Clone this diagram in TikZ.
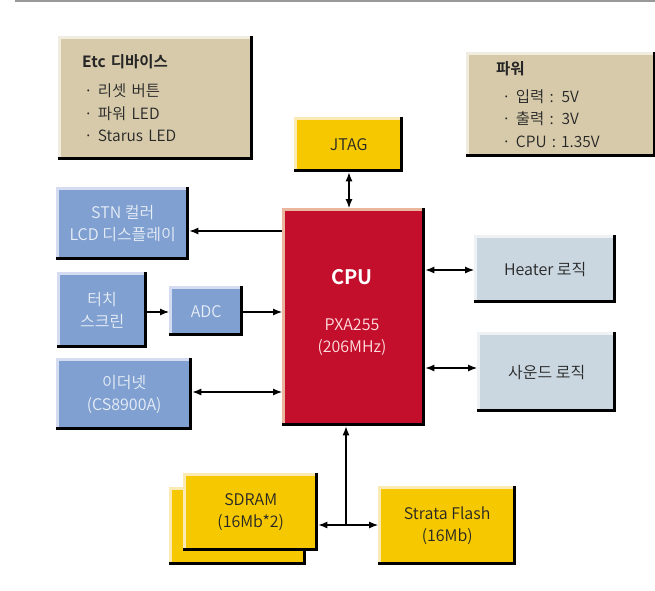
\documentclass[tikz,border=0pt]{standalone}
\usepackage{fontspec}
\setmainfont{Noto Sans CJK KR}[UprightFont={* DemiLight}, BoldFont={* Bold}]
\usetikzlibrary{arrows.meta}
\definecolor{tanbox}{HTML}{D6CAAA}
\definecolor{tanhl}{HTML}{F1ECE0}
\definecolor{bluebox}{HTML}{7FA0D0}
\definecolor{bluehl}{HTML}{D5DBF0}
\definecolor{yelbox}{HTML}{F5C800}
\definecolor{yelhl}{HTML}{FCEAB4}
\definecolor{cpured}{HTML}{C30F2B}
\definecolor{cpuhl}{HTML}{EAB69E}
\definecolor{graybox}{HTML}{CAD7E0}
\definecolor{grayhl}{HTML}{EEF2F5}
\definecolor{bluetxt}{HTML}{E8EEF8}
\definecolor{darktxt}{HTML}{262626}
\newcommand\bev[2]{%
  \draw[#2, line width=3pt] ([xshift=1.5pt]#1.south west) -- ([xshift=1.5pt,yshift=-1.5pt]#1.north west) -- ([yshift=-1.5pt]#1.north east);
  \draw[black, line width=3pt] ([xshift=-1.5pt]#1.north east) -- ([xshift=-1.5pt,yshift=1.5pt]#1.south east) -- ([yshift=1.5pt]#1.south west);
}
\begin{document}
\begin{tikzpicture}[x=1pt,y=-1pt,
  blk/.style={anchor=north west, inner sep=0pt, align=center, font=\fontsize{16}{22.5}\selectfont},
  bluetext/.style={text=bluetxt},
  dtext/.style={text=darktxt},
  conn/.style={line width=1.1pt, -{Latex[length=9pt,width=7pt]}},
  bconn/.style={line width=1.1pt, {Latex[length=9pt,width=7pt]}-{Latex[length=9pt,width=7pt]}}]
\useasboundingbox (0,0) rectangle (655,590);
\draw[color=black!40, line width=1.6pt] (15,0.8) coordinate (tl) -- (655,0.8) coordinate (tr);

% Etc box
\node[blk, fill=tanbox, minimum width=195pt, minimum height=124pt, align=left, text width=147pt, dtext,
  font=\fontsize{15.5}{22.5}\selectfont] (etc) at (58,36)
 {{\bfseries Etc 디바이스}\\[7pt] \hspace*{2pt}· 리셋 버튼\\ \hspace*{2pt}· 파워 LED\\ \hspace*{2pt}· Starus LED};
\bev{etc}{tanhl}

% Power box
\node[blk, fill=tanbox, minimum width=190pt, minimum height=105pt, align=left, text width=130pt, dtext,
  font=\fontsize{15.5}{22.5}\selectfont] (pwr) at (466,52)
 {{\bfseries 파워}\\[5pt] \hspace*{6pt}· 입력 : 5V\\ \hspace*{6pt}· 출력 : 3V\\ \hspace*{6pt}· CPU : 1.35V};
\bev{pwr}{tanhl}

% JTAG
\node[blk, fill=yelbox, minimum width=109pt, minimum height=55pt, dtext] (jtag) at (294,117) {JTAG};
\bev{jtag}{yelhl}

% CPU
\node[blk, fill=cpured, minimum width=143pt, minimum height=218pt, text=white] (cpu) at (282,208) {};
\bev{cpu}{cpuhl}
\node[text=white, font=\fontsize{20}{24}\selectfont\bfseries] (cput) at (352,277) {CPU};
\node[text=white!88!red, align=center, font=\fontsize{16}{21.5}\selectfont] (cpus) at (352,337) {PXA255\\(206MHz)};

% STN
\node[blk, fill=bluebox, minimum width=133pt, minimum height=73pt, bluetext] (stn) at (56,187) {STN 컬러\\LCD 디스플레이};
\bev{stn}{bluehl}

% Touch
\node[blk, fill=bluebox, minimum width=90pt, minimum height=76pt, bluetext] (touch) at (57,272) {터치\\스크린};
\bev{touch}{bluehl}

% ADC
\node[blk, fill=bluebox, minimum width=74pt, minimum height=50pt, bluetext] (adc) at (169,286) {ADC};
\bev{adc}{bluehl}

% Ethernet
\node[blk, fill=bluebox, minimum width=136pt, minimum height=72pt, bluetext] (eth) at (56,358) {이더넷\\(CS8900A)};
\bev{eth}{bluehl}

% Heater
\node[blk, fill=graybox, minimum width=142pt, minimum height=68pt, dtext] (heat) at (474,235) {Heater 로직};
\bev{heat}{grayhl}

% Sound
\node[blk, fill=graybox, minimum width=139pt, minimum height=80pt, dtext] (snd) at (477,332) {사운드 로직};
\bev{snd}{grayhl}

% SDRAM back & front
\node[blk, fill=yelbox, minimum width=137pt, minimum height=78pt] (sdramb) at (169,487) {};
\bev{sdramb}{yelhl}
\node[blk, fill=yelbox, minimum width=135pt, minimum height=78pt, dtext] (sdram) at (183,473) {SDRAM\\(16Mb*2)};
\bev{sdram}{yelhl}

% Strata
\node[blk, fill=yelbox, minimum width=138pt, minimum height=79pt, dtext] (flash) at (378,486) {Strata Flash\\(16Mb)};
\bev{flash}{yelhl}

% connectors
\draw[bconn] (jtag.south -| 349,0) -- (cpu.north -| 349,0);
\draw[conn] (cpu.west |- 0,231) -- (stn.east |- 0,231);
\draw[conn] (touch.east |- 0,312) -- (adc.west |- 0,312);
\draw[conn] (adc.east |- 0,312) -- (cpu.west |- 0,312);
\draw[bconn] (eth.east |- 0,392) -- (cpu.west |- 0,392);
\draw[bconn] (cpu.east |- 0,270) -- (heat.west |- 0,270);
\draw[bconn] (cpu.east |- 0,368) -- (snd.west |- 0,368);
\coordinate (bus) at (346,525);
\draw[bconn] (sdram.east |- bus) -- (flash.west |- bus);
\draw[conn] (bus) -- (cpu.south -| bus);
\end{tikzpicture}
\end{document}
